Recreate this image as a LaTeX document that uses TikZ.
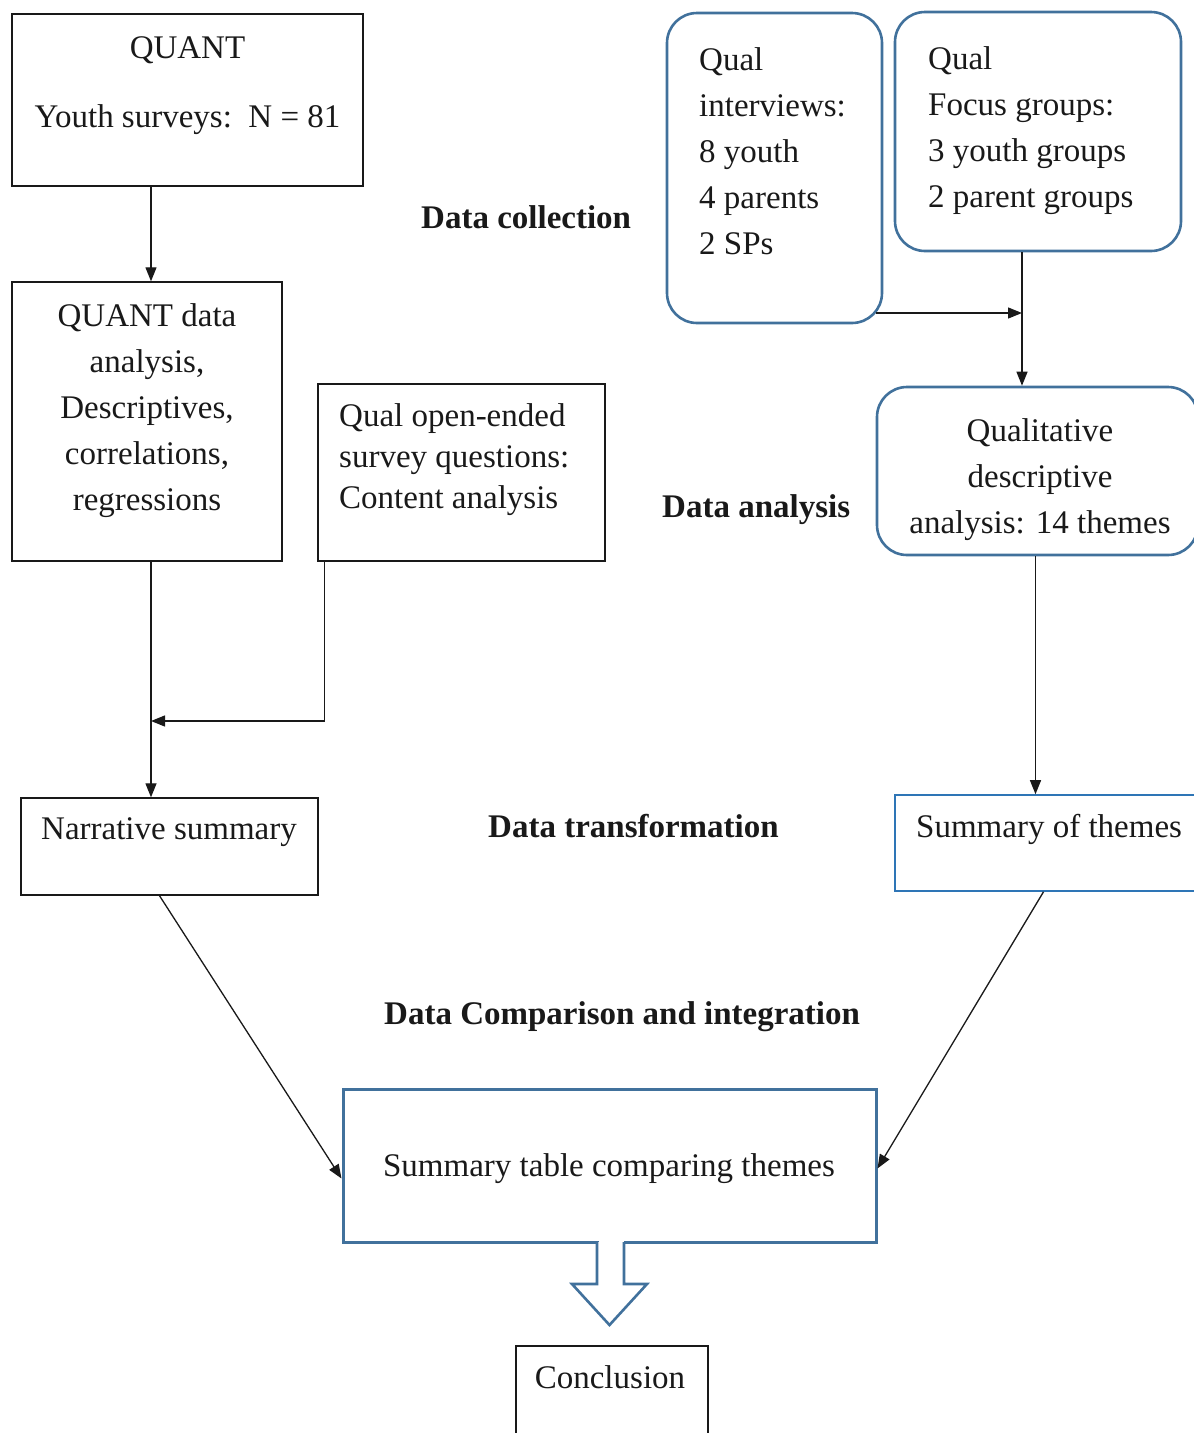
\documentclass[tikz,border=0pt]{standalone}
\usepackage{fontspec}
\setmainfont{Liberation Serif}
\usetikzlibrary{arrows.meta,calc}
\definecolor{qblue}{RGB}{65,113,156}
\definecolor{tblue}{RGB}{46,117,182}
\definecolor{ink}{RGB}{25,25,25}
\begin{document}
\begin{tikzpicture}[x=1pt,y=-1pt,
  box/.style={draw=ink, line width=1.4pt, inner sep=0pt},
  rbox/.style={draw=qblue, line width=2.6pt, rounded corners=30pt, inner sep=0pt},
  thbox/.style={draw=tblue, line width=1.6pt, inner sep=0pt},
  stbox/.style={draw=qblue, line width=3pt, inner sep=0pt},
  txt/.style={font=\fontsize{33}{46}\selectfont, inner sep=0pt, text=ink},
  lbl/.style={font=\fontsize{33}{46}\selectfont\bfseries, inner sep=0pt, text=ink, anchor=north west},
  arr/.style={draw=ink, line width=1.3pt, -{Triangle[length=14pt,width=11pt]}}]
\useasboundingbox (0,0) rectangle (1194,1433);
\clip (0,0) rectangle (1194,1433);

% boxes
\node[box, minimum width=351pt, minimum height=172pt] (quant) at (187.5,100) {};
\node[box, minimum width=270pt, minimum height=279pt] (qa) at (147,421.5) {};
\node[box, minimum width=287pt, minimum height=177pt] (qo) at (461.5,472.5) {};
\node[rbox, minimum width=215pt, minimum height=310pt] (qi) at (774.5,168) {};
\node[rbox, minimum width=286pt, minimum height=239pt] (qf) at (1038,131.5) {};
\node[rbox, minimum width=321pt, minimum height=168pt] (qd) at (1037.5,471) {};
\node[box, minimum width=297pt, minimum height=97pt] (nar) at (169.5,846.5) {};
\node[thbox, minimum width=305pt, minimum height=96pt] (sot) at (1047.5,843) {};
\node[stbox, minimum width=533pt, minimum height=153pt] (st) at (609.5,1165.5) {};
\node[box, minimum width=192pt, minimum height=99pt] (con) at (612,1395.5) {};

% texts
\node[txt, anchor=north] (tq1) at (187.5,36) {QUANT};
\node[txt, anchor=north] (tq2) at (187.5,104) {Youth surveys:\ \ N = 81};
\node[txt, anchor=north, align=center] (tqa) at (147,303) {QUANT data\\analysis,\\Descriptives,\\correlations,\\regressions};
\node[txt, anchor=north west, align=left, font=\fontsize{33}{41}\selectfont] (tqo) at (339,403) {Qual open-ended\\survey questions:\\Content analysis};
\node[txt, anchor=north west, align=left] (tqi) at (699,47) {Qual\\interviews:\\8 youth\\4 parents\\2 SPs};
\node[txt, anchor=north west, align=left] (tqf) at (928,46) {Qual\\Focus groups:\\3 youth groups\\2 parent groups};
\node[txt, anchor=north, align=center] (tqd) at (1040,418) {Qualitative\\descriptive\\analysis: 14 themes};
\node[txt, anchor=north west] (tnar) at (41,817) {Narrative summary};
\node[txt, anchor=north west] (tsot) at (916,814) {Summary of themes};
\node[txt, anchor=north] (tst) at (609,1153) {Summary table comparing themes};
\node[txt, anchor=north] (tcon) at (610,1365) {Conclusion};

% stage labels
\node[lbl] (l1) at (421,205) {Data collection};
\node[lbl] (l2) at (662,494) {Data analysis};
\node[lbl] (l3) at (488,814) {Data transformation};
\node[lbl] (l4) at (384,1001) {Data Comparison and integration};

% connectors
\coordinate (mj) at (151,721);
\coordinate (fj) at (1022,313);
\draw[arr] ([xshift=4pt]qa.north |- quant.south) -- ([xshift=4pt]qa.north);
\draw[arr] ([xshift=4pt]qa.south) -- ([xshift=4pt]qa.south |- nar.north);
\draw[arr] ([xshift=7pt]qo.south west) |- (mj);
\draw[arr] ([xshift=-7pt]qi.east |- fj) -- (fj);
\draw[arr] (fj |- qf.south) -- (fj |- qd.north);
\draw[arr] ([xshift=-2pt]qd.south) -- ([xshift=-2pt]qd.south |- sot.north);
\draw[arr] ([xshift=-10pt]nar.south) -- ([yshift=-13pt]st.west);
\draw[arr] ([xshift=-4pt]sot.south) -- ([yshift=-3pt]st.east);

% block arrow to conclusion
\fill[white] (598.5,1239) rectangle (623.5,1290);
\draw[qblue, line width=2.6pt, line join=miter, fill=white]
  (597,1242) -- (597,1284) -- (572,1284) -- (609.5,1325) -- (647,1284) -- (624,1284) -- (624,1242);
\end{tikzpicture}
\end{document}
